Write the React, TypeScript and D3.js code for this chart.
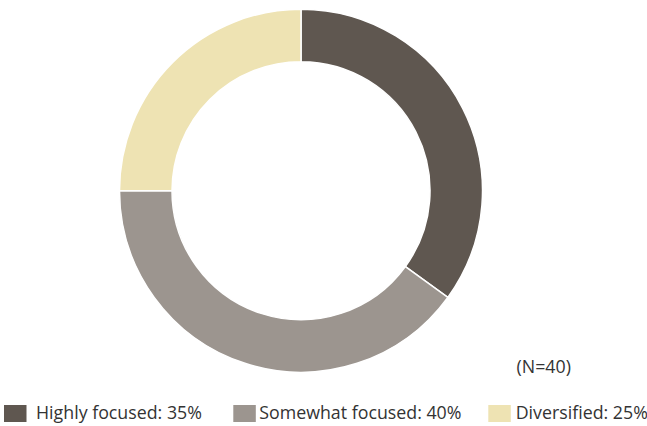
import React from "react";
import * as d3 from "d3";

const categories = ["Highly focused", "Somewhat focused", "Diversified"];
const values = [35, 40, 25];
const colors = ["#5f5750", "#9c958f", "#eee3b3"];
const legendLabels = ["Highly focused: 35%", "Somewhat focused: 40%", "Diversified: 25%"];
const note = "(N=40)";

const W = 647;
const H = 426;

export default function App() {
  const cx = 301;
  const cy = 190.7;
  const outerR = 181.5;
  const innerR = 129;
  const pie = d3.pie<number>().sort(null).value((d) => d)(values);
  const arc = d3.arc<d3.PieArcDatum<number>>().innerRadius(innerR).outerRadius(outerR);
  const legendX = [4, 233.3, 488.3];
  const textX = [36, 259.3, 515.7];
  const font = "'Open Sans', sans-serif";
  return (
    <svg width={W} height={H} style={{ position: "absolute", left: 0, top: 0, background: "#fff" }}>
      <g transform={`translate(${cx},${cy})`}>
        {pie.map((p, i) => (
          <path key={categories[i]} d={arc(p) || ""} fill={colors[i]} stroke="#fff" strokeWidth={1.5} />
        ))}
      </g>
      <text x={516.5} y={373} fontFamily={font} fontSize={17.8} fill="#333">
        {note}
      </text>
      {legendLabels.map((l, i) => (
        <g key={l}>
          <rect x={legendX[i]} y={405} width={22.5} height={17} fill={colors[i]} />
          <text x={textX[i]} y={419.3} fontFamily={font} fontSize={17.8} fill="#333">
            {l}
          </text>
        </g>
      ))}
    </svg>
  );
}
